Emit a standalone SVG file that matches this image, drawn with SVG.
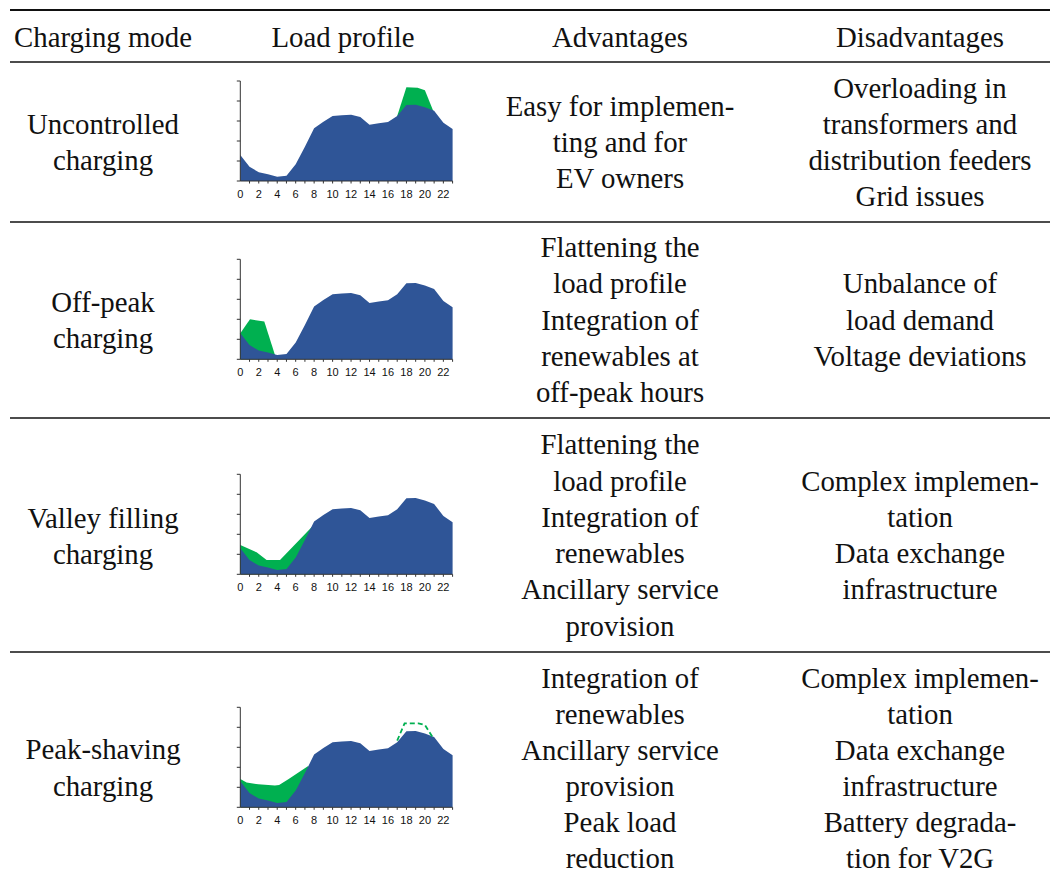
<svg xmlns="http://www.w3.org/2000/svg" width="1050" height="878" viewBox="0 0 1050 878">
<defs>
<style>
.t{font-family:"Liberation Serif","Times New Roman",serif;font-size:28.8px;fill:#111;text-anchor:middle}
.ax{fill:none;stroke:#333;stroke-width:1}
.lb{font-family:"Liberation Sans",Arial,sans-serif;font-size:11px;fill:#111;text-anchor:middle}
.blue{fill:#2F5597}
.green{fill:#00B050}
.dash{fill:none;stroke:#00B050;stroke-width:1.8;stroke-dasharray:5 3}
.rule{stroke:#111;stroke-width:1.3}
</style>
<path id="profile" class="blue" d="M0,0 V-26 L9.2,-14.3 L18.5,-8.7 L27.7,-6.7 L36.9,-4.3 L46.2,-5.3 L55.4,-16.7 L64.6,-34.3 L73.8,-52.7 L83.1,-59.3 L92.3,-65 L101.5,-65.7 L110.8,-66.3 L120,-64 L129.2,-56.3 L138.5,-57.7 L147.7,-59 L156.9,-65 L166.1,-76 L175.4,-76.3 L184.6,-73.7 L193.8,-70.3 L203.1,-58.3 L212.3,-52 V0 Z"/>
<g id="axes">
<path class="ax" d="M0,-100 V0 H212.3 M-3.5,0 H0 M-3.5,-20 H0 M-3.5,-40 H0 M-3.5,-60 H0 M-3.5,-80 H0 M-3.5,-100 H0 M9.23,0 v2.5 M18.46,0 v2.5 M27.69,0 v2.5 M36.92,0 v2.5 M46.15,0 v2.5 M55.38,0 v2.5 M64.61,0 v2.5 M73.84,0 v2.5 M83.07,0 v2.5 M92.3,0 v2.5 M101.53,0 v2.5 M110.76,0 v2.5 M119.99,0 v2.5 M129.22,0 v2.5 M138.45,0 v2.5 M147.68,0 v2.5 M156.91,0 v2.5 M166.14,0 v2.5 M175.37,0 v2.5 M184.6,0 v2.5 M193.83,0 v2.5 M203.06,0 v2.5 M212.29,0 v2.5"/>
<g class="lb">
<text x="0" y="16.5">0</text><text x="18.46" y="16.5">2</text><text x="36.92" y="16.5">4</text><text x="55.38" y="16.5">6</text><text x="73.84" y="16.5">8</text><text x="92.3" y="16.5">10</text><text x="110.76" y="16.5">12</text><text x="129.22" y="16.5">14</text><text x="147.68" y="16.5">16</text><text x="166.14" y="16.5">18</text><text x="184.6" y="16.5">20</text><text x="203.06" y="16.5">22</text>
</g>
</g>
</defs>

<g id="rules">
<line class="rule" x1="10" y1="10" x2="1050" y2="10" style="stroke-width:2"/>
<line class="rule" x1="10" y1="62" x2="1050" y2="62"/>
<line class="rule" x1="10" y1="222" x2="1050" y2="222"/>
<line class="rule" x1="10" y1="418" x2="1050" y2="418"/>
<line class="rule" x1="10" y1="652" x2="1050" y2="652"/>
</g>

<g id="header">
<text class="t" x="103" y="47">Charging mode</text>
<text class="t" x="343" y="47">Load profile</text>
<text class="t" x="620" y="47">Advantages</text>
<text class="t" x="920" y="47">Disadvantages</text>
</g>

<g id="row-uncontrolled">
<text class="t" x="103" y="134">Uncontrolled</text>
<text class="t" x="103" y="170">charging</text>
<g id="chart-uncontrolled" transform="translate(240.3,181)">
<path class="green" d="M156.9,0 V-65 L166.1,-93.7 L177.3,-93.3 L184.6,-90.7 L193,-70 V0 Z"/>
<use href="#profile"/>
<use href="#axes"/>
</g>
<text class="t" x="620" y="116">Easy for implemen-</text>
<text class="t" x="620" y="152">ting and for</text>
<text class="t" x="620" y="188">EV owners</text>
<text class="t" x="920" y="98">Overloading in</text>
<text class="t" x="920" y="134">transformers and</text>
<text class="t" x="920" y="170">distribution feeders</text>
<text class="t" x="920" y="206">Grid issues</text>
</g>

<g id="row-offpeak">
<text class="t" x="103" y="312">Off-peak</text>
<text class="t" x="103" y="348">charging</text>
<g id="chart-offpeak" transform="translate(240.3,359.3)">
<path class="green" d="M0,0 V-26 L9.7,-40 L24,-37.7 L34.6,-4.5 V0 Z"/>
<use href="#profile"/>
<use href="#axes"/>
</g>
<text class="t" x="620" y="257">Flattening the</text>
<text class="t" x="620" y="293">load profile</text>
<text class="t" x="620" y="330">Integration of</text>
<text class="t" x="620" y="366">renewables at</text>
<text class="t" x="620" y="402">off-peak hours</text>
<text class="t" x="920" y="293">Unbalance of</text>
<text class="t" x="920" y="330">load demand</text>
<text class="t" x="920" y="366">Voltage deviations</text>
</g>

<g id="row-valley">
<text class="t" x="103" y="528">Valley filling</text>
<text class="t" x="103" y="564">charging</text>
<g id="chart-valley" transform="translate(240.3,574.3)">
<path class="green" d="M0,0 V-29.3 L16.3,-22 L26.3,-14.3 L39.7,-14.3 L72,-47.7 V0 Z"/>
<use href="#profile"/>
<use href="#axes"/>
</g>
<text class="t" x="620" y="454">Flattening the</text>
<text class="t" x="620" y="491">load profile</text>
<text class="t" x="620" y="527">Integration of</text>
<text class="t" x="620" y="563">renewables</text>
<text class="t" x="620" y="599">Ancillary service</text>
<text class="t" x="620" y="636">provision</text>
<text class="t" x="920" y="491">Complex implemen-</text>
<text class="t" x="920" y="527">tation</text>
<text class="t" x="920" y="563">Data exchange</text>
<text class="t" x="920" y="599">infrastructure</text>
</g>

<g id="row-peakshaving">
<text class="t" x="103" y="759">Peak-shaving</text>
<text class="t" x="103" y="796">charging</text>
<g id="chart-peakshaving" transform="translate(240.3,807.3)">
<path class="green" d="M0,0 V-28.3 L6.3,-24.7 L18,-23 L34.6,-21.7 L38.8,-22.3 L48,-28 L67.9,-41.3 V0 Z"/>
<use href="#profile"/>
<use href="#axes"/>
<path class="dash" d="M156.9,-66.7 L164.3,-84 L178.1,-84 L184.6,-82.3 L191.9,-70.7"/>
</g>
<text class="t" x="620" y="688">Integration of</text>
<text class="t" x="620" y="724">renewables</text>
<text class="t" x="620" y="760">Ancillary service</text>
<text class="t" x="620" y="796">provision</text>
<text class="t" x="620" y="832">Peak load</text>
<text class="t" x="620" y="868">reduction</text>
<text class="t" x="920" y="688">Complex implemen-</text>
<text class="t" x="920" y="724">tation</text>
<text class="t" x="920" y="760">Data exchange</text>
<text class="t" x="920" y="796">infrastructure</text>
<text class="t" x="920" y="832">Battery degrada-</text>
<text class="t" x="920" y="868">tion for V2G</text>
</g>
</svg>
